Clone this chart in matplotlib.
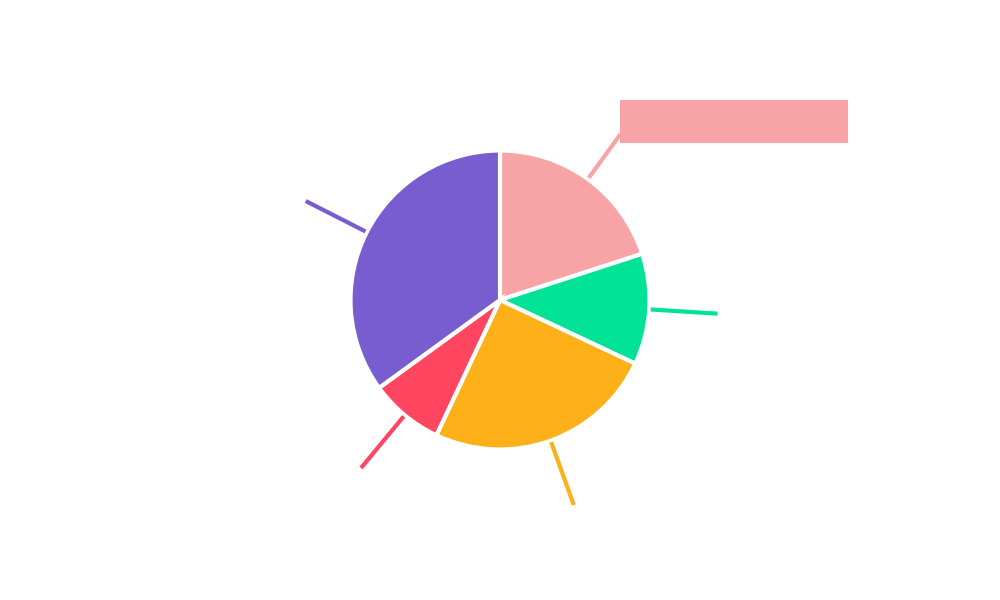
import numpy as np
import matplotlib.pyplot as plt

categories = ["A", "B", "C", "D", "E"]
values = [20, 12, 25, 8, 35]
colors = ["#F8A4A6", "#00E396", "#FEB019", "#FF4560", "#775DD0"]

fig = plt.figure(figsize=(10, 6), dpi=100)
ax = fig.add_axes([0, 0, 1, 1])

R = 149.5
wedges, _ = ax.pie(values, colors=colors, startangle=90, counterclock=False,
                   radius=R, center=(0, 0), frame=True,
                   wedgeprops=dict(edgecolor="white", linewidth=3))
ax.set_xlim(-500, 500)
ax.set_ylim(-300, 300)
ax.set_aspect("equal")
ax.axis("off")

# leader lines at slice middles
for i, w in enumerate(wedges):
    mid = np.deg2rad((w.theta1 + w.theta2) / 2)
    r_out = 218 if i != 0 else 205
    ax.plot([151 * np.cos(mid), r_out * np.cos(mid)],
            [151 * np.sin(mid), r_out * np.sin(mid)],
            color=colors[i], lw=3, solid_capstyle="butt")

# label box for first slice (no text shown)
ax.add_patch(plt.Rectangle((120, 157), 228, 43, color=colors[0], lw=0))

fig.savefig("out.png", dpi=100)
